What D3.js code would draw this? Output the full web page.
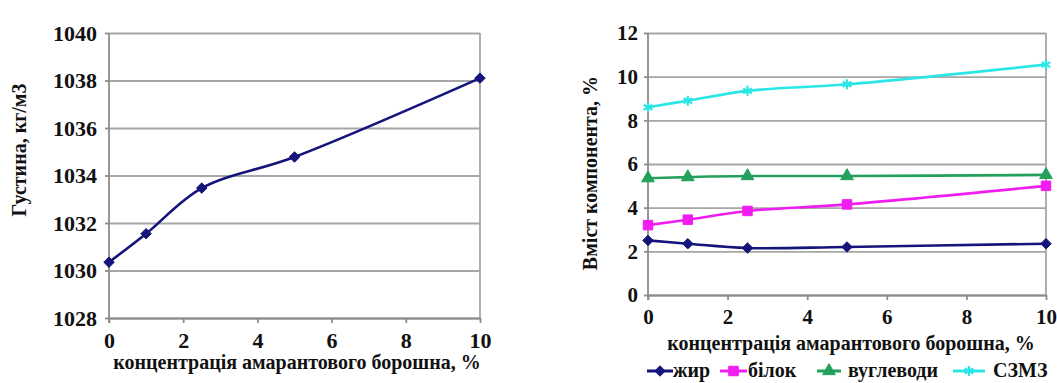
<!DOCTYPE html>
<html><head><meta charset="utf-8">
<script src="https://cdn.jsdelivr.net/npm/d3@7"></script>
<style>
body{margin:0;background:#fff;}
svg text{font-family:"Liberation Serif","Times New Roman","DejaVu Serif",serif !important;font-weight:bold;fill:#111;}
</style></head><body>
<svg id="c" width="1057" height="383"></svg>
<script>
const conc = [0, 1, 2.5, 5, 10];
const density = [1030.35, 1031.55, 1033.47, 1034.78, 1038.1];
const fat = [2.5, 2.35, 2.15, 2.2, 2.35];
const protein = [3.2, 3.45, 3.85, 4.15, 5.0];
const carbs = [5.35, 5.4, 5.45, 5.45, 5.5];
const smnf = [8.6, 8.9, 9.35, 9.65, 10.55];
const xTicks = [0, 2, 4, 6, 8, 10];
const yTicksLeft = [1028, 1030, 1032, 1034, 1036, 1038, 1040];
const yTicksRight = [0, 2, 4, 6, 8, 10, 12];
const seriesNames = ["жир", "білок", "вуглеводи", "СЗМЗ"];
const xTitle = "концентрація амарантового борошна, %";
const yTitleLeft = "Густина, кг/м3";
const yTitleRight = "Вміст компонента, %";

const svg = d3.select("#c");
const gridColor = "#a6a6a6", axisColor = "#8c8c8c";
const FS = 20;
const FF = "'Liberation Serif','Times New Roman','DejaVu Serif',serif";

function styleText(sel, fs) {
  sel.attr("font-size", fs || FS).attr("fill", "#111").attr("font-family", FF).attr("font-weight", "bold")
     .style("font-family", FF).style("font-weight", "bold");
}

function panel(o) {
  const {x0, x1, y0, y1, yDomain, yTicks, yTitle, yTitleX, yTitleY, tickFS, yPad, xPad} = o;
  const x = d3.scaleLinear().domain([0, 10]).range([x0, x1]);
  const y = d3.scaleLinear().domain(yDomain).range([y1, y0]);
  const g = svg.append("g");
  const gy = g.append("g").attr("transform", `translate(${x0},0)`)
    .call(d3.axisLeft(y).tickValues(yTicks).tickSize(-(x1 - x0)).tickSizeOuter(0).tickPadding(yPad).tickFormat(d3.format("d")));
  gy.attr("font-family", null);
  gy.select(".domain").remove();
  gy.selectAll(".tick line").attr("stroke", gridColor).attr("stroke-width", 1.8);
  styleText(gy.selectAll(".tick text"), tickFS);
  g.append("g").attr("transform", `translate(${x0},0)`)
    .call(d3.axisLeft(y).tickValues(yTicks).tickSize(4).tickFormat(""))
    .call(s => { s.select(".domain").remove(); s.selectAll("line").attr("stroke", axisColor).attr("stroke-width", 1.8); });
  g.append("line").attr("x1", x1).attr("x2", x1).attr("y1", y0).attr("y2", y1)
    .attr("stroke", gridColor).attr("stroke-width", 1.8);
  const gx = g.append("g").attr("transform", `translate(0,${y1})`)
    .call(d3.axisBottom(x).tickValues(xTicks).tickSize(5).tickSizeOuter(0).tickPadding(xPad).tickFormat(d3.format("d")));
  gx.attr("font-family", null);
  gx.select(".domain").attr("stroke", axisColor).attr("stroke-width", 1.8);
  gx.selectAll(".tick line").attr("stroke", axisColor).attr("stroke-width", 1.8);
  styleText(gx.selectAll(".tick text"), tickFS);
  g.append("line").attr("x1", x0).attr("x2", x0).attr("y1", y0).attr("y2", y1 + 5)
    .attr("stroke", axisColor).attr("stroke-width", 1.8);
  const t = g.append("text").attr("transform", `translate(${yTitleX},${yTitleY}) rotate(-90)`)
    .attr("text-anchor", "middle").attr("dominant-baseline", "central").text(yTitle);
  styleText(t);
  return {x, y, g};
}

function drawSeries(p, vals, color, sym, size) {
  const data = conc.map((c, i) => [c, vals[i]]);
  p.g.append("path").datum(data)
    .attr("d", d3.line().x(d => p.x(d[0])).y(d => p.y(d[1])).curve(d3.curveCatmullRom.alpha(0.5)))
    .attr("fill", "none").attr("stroke", color).attr("stroke-width", 2.6);
  p.g.selectAll(null).data(data).enter().append("path")
    .attr("transform", d => `translate(${p.x(d[0])},${p.y(d[1])})`)
    .attr("d", d3.symbol().type(sym).size(size)).attr("fill", color).attr("stroke", color)
    .attr("stroke-width", sym === d3.symbolAsterisk ? 2.2 : 1);
}

const L = panel({x0: 109, x1: 480, y0: 33, y1: 318, yDomain: [1028, 1040], yTicks: yTicksLeft,
  yTitle: yTitleLeft, yTitleX: 19, yTitleY: 150, tickFS: 22, yPad: 12, xPad: 9});
drawSeries(L, density, "#14147a", d3.symbolDiamond2, 70);
styleText(L.g.append("text").attr("x", 297).attr("y", 369).attr("text-anchor", "middle").text(xTitle));

const R = panel({x0: 648, x1: 1046, y0: 33, y1: 295, yDomain: [0, 12], yTicks: yTicksRight,
  yTitle: yTitleRight, yTitleX: 590, yTitleY: 173, tickFS: 21, yPad: 10, xPad: 9});
const colors = ["#14147a", "#f01cf0", "#22a05c", "#2ae6e6"];
const syms = [d3.symbolDiamond2, d3.symbolSquare, d3.symbolTriangle, d3.symbolAsterisk];
const sizes = [70, 90, 70, 70];
[fat, protein, carbs, smnf].forEach((v, i) => drawSeries(R, v, colors[i], syms[i], sizes[i]));
styleText(R.g.append("text").attr("x", 851).attr("y", 350).attr("text-anchor", "middle").text(xTitle));

const legX = [647, 720, 817, 953];
const legW = [26, 27, 24, 32];
const legTextX = [673, 748, 848, 993];
const legY = 371;
seriesNames.forEach((n, i) => {
  const lg = svg.append("g");
  lg.append("line").attr("x1", legX[i]).attr("x2", legX[i] + legW[i]).attr("y1", legY).attr("y2", legY)
    .attr("stroke", colors[i]).attr("stroke-width", 3);
  lg.append("path").attr("transform", `translate(${legX[i] + legW[i] / 2},${legY})`)
    .attr("d", d3.symbol().type(syms[i]).size(sizes[i])).attr("fill", colors[i]).attr("stroke", colors[i])
    .attr("stroke-width", syms[i] === d3.symbolAsterisk ? 2.2 : 1);
  styleText(lg.append("text").attr("x", legTextX[i]).attr("y", legY).attr("dy", "0.3em").text(n), 20);
});
</script></body></html>
